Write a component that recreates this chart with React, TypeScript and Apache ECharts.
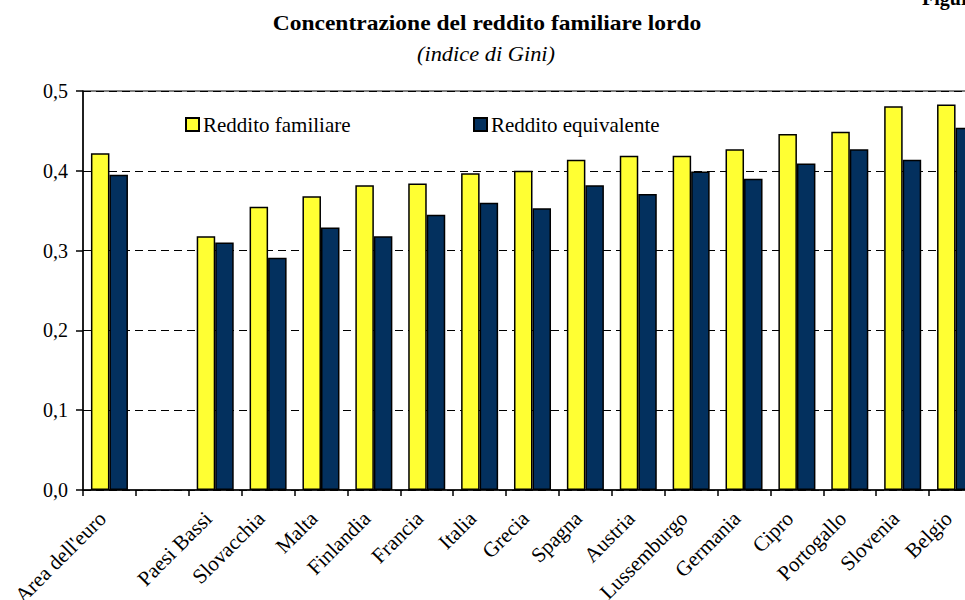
import React, { useEffect, useRef } from "react";
import * as echarts from "echarts";

const categories = [
  "Area dell'euro",
  "",
  "Paesi Bassi",
  "Slovacchia",
  "Malta",
  "Finlandia",
  "Francia",
  "Italia",
  "Grecia",
  "Spagna",
  "Austria",
  "Lussemburgo",
  "Germania",
  "Cipro",
  "Portogallo",
  "Slovenia",
  "Belgio",
];

const redditoFamiliare = [
  0.422, null, 0.318, 0.355, 0.368, 0.382, 0.384, 0.397, 0.4, 0.414, 0.419,
  0.419, 0.427, 0.446, 0.449, 0.481, 0.483,
];

const redditoEquivalente = [
  0.395, null, 0.31, 0.291, 0.329, 0.318, 0.345, 0.36, 0.353, 0.382, 0.371,
  0.399, 0.39, 0.409, 0.427, 0.414, 0.454,
];

const yTicks = [0, 0.1, 0.2, 0.3, 0.4, 0.5];

const FONT = "'Liberation Serif', 'Times New Roman', serif";

export default function App() {
  const ref = useRef<HTMLDivElement>(null);

  useEffect(() => {
    if (!ref.current) return;
    const chart = echarts.init(ref.current, undefined, { renderer: "svg" });
    chart.setOption({
      animation: false,
      backgroundColor: "#ffffff",
      graphic: [
        {
          type: "text",
          x: 487,
          y: 12,
          scaleX: 1.12,
          style: {
            text: "Concentrazione del reddito familiare lordo",
            font: `bold 21px ${FONT}`,
            fill: "#000",
            textAlign: "center",
          },
        },
        {
          type: "text",
          x: 486,
          y: 44,
          scaleX: 1.12,
          style: {
            text: "(indice di Gini)",
            font: `italic 20px ${FONT}`,
            fill: "#000",
            textAlign: "center",
          },
        },
        {
          type: "text",
          x: 922,
          y: -12,
          style: {
            text: "Figura",
            font: `bold 20px ${FONT}`,
            fill: "#000",
          },
        },
      ],
      legend: [
        {
          data: ["Reddito familiare"],
          left: 185,
          top: 114,
          padding: 0,
          itemWidth: 13,
          itemHeight: 13,
          icon: "rect",
          textStyle: { fontFamily: FONT, fontSize: 21, color: "#000", padding: [0, 0, 0, -1] },
        },
        {
          data: ["Reddito equivalente"],
          left: 473,
          top: 114,
          padding: 0,
          itemWidth: 13,
          itemHeight: 13,
          icon: "rect",
          textStyle: { fontFamily: FONT, fontSize: 21, color: "#000", padding: [0, 0, 0, -1] },
        },
      ],
      grid: {
        left: 83,
        top: 91,
        bottom: 110,
        right: 18,
        show: true,
        borderColor: "#000",
        borderWidth: 1,
        containLabel: false,
        outerBoundsMode: "none",
      },
      xAxis: {
        type: "category",
        data: categories,
        axisLine: { show: true, lineStyle: { color: "#000", width: 1.5 } },
        axisTick: {
          show: true,
          alignWithLabel: false,
          length: 6,
          lineStyle: { color: "#000", width: 1.5 },
        },
        axisLabel: {
          interval: 0,
          rotate: 45,
          fontFamily: FONT,
          fontSize: 21,
          color: "#000",
          margin: 18,
          padding: [0, 10, 0, 0],
        },
      },
      yAxis: {
        type: "value",
        min: 0,
        max: 0.5,
        interval: 0.1,
        axisLine: { show: true, lineStyle: { color: "#000", width: 1.5 } },
        axisTick: {
          show: true,
          length: 7,
          lineStyle: { color: "#000", width: 1.5 },
        },
        axisLabel: {
          fontFamily: FONT,
          fontSize: 20,
          color: "#000",
          margin: 15,
          formatter: (v: number) => {
            const t = yTicks.find((x) => Math.abs(x - v) < 1e-6);
            return (t !== undefined ? t : v).toFixed(1).replace(".", ",");
          },
        },
        splitLine: {
          show: true,
          lineStyle: { color: "#000", type: [8, 5], width: 1.2 },
        },
      },
      series: [
        {
          name: "Reddito familiare",
          type: "bar",
          data: redditoFamiliare,
          barGap: "0%",
          barCategoryGap: "30%",
          itemStyle: { color: "#FFFF33", borderColor: "#000", borderWidth: 1.5 },
        },
        {
          name: "Reddito equivalente",
          type: "bar",
          data: redditoEquivalente,
          barGap: "0%",
          barCategoryGap: "30%",
          itemStyle: { color: "#03305E", borderColor: "#000", borderWidth: 1.5 },
        },
      ],
    });
    return () => chart.dispose();
  }, []);

  return (
    <div
      style={{
        position: "fixed",
        left: 0,
        top: 0,
        width: 965,
        height: 600,
        overflow: "hidden",
        background: "#fff",
      }}
    >
      <div ref={ref} style={{ width: 1000, height: 600 }} />
    </div>
  );
}
